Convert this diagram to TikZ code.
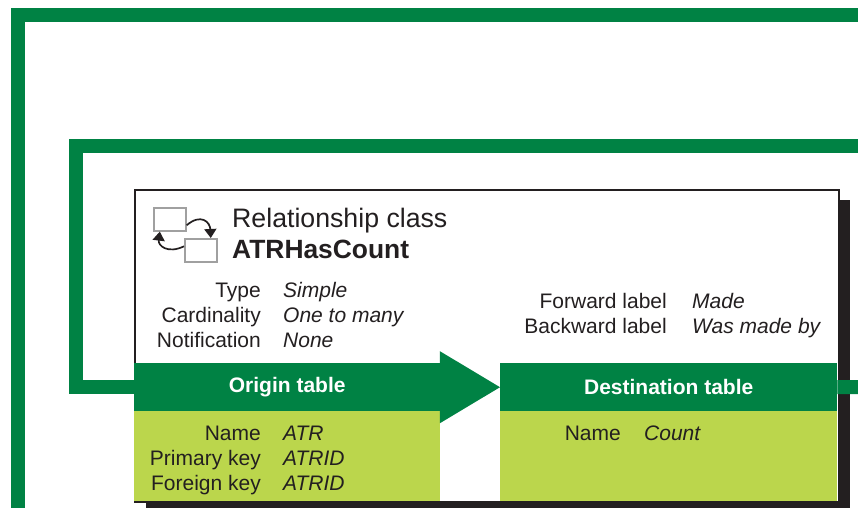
\documentclass[tikz,border=0pt]{standalone}
\usepackage{fontspec}
\setmainfont{Liberation Sans}
\usetikzlibrary{arrows.meta,calc}
\definecolor{dkgreen}{RGB}{0,130,68}
\definecolor{ltgreen}{RGB}{187,214,76}
\definecolor{ink}{RGB}{35,31,32}
\definecolor{iconedge}{RGB}{160,160,160}
\tikzset{
  gline/.style={draw=dkgreen, line width=14pt, line join=miter},
  lbl/.style={anchor=base east, inner sep=0pt, text=ink, font=\fontsize{21}{24}\selectfont},
  val/.style={anchor=base west, inner sep=0pt, text=ink, font=\fontsize{21}{24}\selectfont\itshape},
  headbox/.style={fill=dkgreen, text=white, inner sep=0pt, anchor=north west,
    font=\fontsize{21}{24}\selectfont\bfseries, minimum height=48pt},
  bodybox/.style={fill=ltgreen, inner sep=0pt, anchor=north west, minimum height=90pt},
  iconsq/.style={draw=iconedge, fill=white, line width=1.6pt, inner sep=0pt, anchor=north west,
    minimum width=32pt, minimum height=23pt},
  iconarr/.style={draw=ink, line width=1.7pt, -{Triangle[length=9pt,width=12pt]}}
}
\begin{document}
\begin{tikzpicture}[x=1pt,y=-1pt]
\useasboundingbox (0,0) rectangle (858,507);
% outer green connector
\coordinate (outA) at (17.5,515);
\coordinate (outB) at (866,15);
\draw[gline] (outA) |- (outB);
% main box with shadow
\fill[ink] (146,200) rectangle (850,515);
\node[draw=ink, line width=1.5pt, fill=white, inner sep=0pt, anchor=north west,
  minimum width=704pt, minimum height=312pt] (box) at (134,189) {};
% second green connector
\coordinate (inA) at (866,145.5);
\coordinate (inB) at (75.5,145.5);
% tables
\node[headbox, minimum width=306pt] (orighead) at (134,363) {Origin table};
\node[bodybox, minimum width=306pt] (origbody) at (134,411) {};
\node[headbox, minimum width=337pt] (desthead) at (500,363) {Destination table};
\node[bodybox, minimum width=337pt] (destbody) at (500,411) {};
\draw[gline] (inA) -- (inB) |- (orighead.west);
\coordinate (outR) at (866,387);
\draw[gline] (desthead.east) -- (outR);
% arrow between tables
\fill[dkgreen] ($(orighead.east)+(-0.5,-36)$) -- (desthead.west) -- ($(orighead.east)+(-0.5,36)$) -- cycle;
% icon
\node[iconsq] (sqA) at (153,207) {};
\node[iconsq] (sqB) at (184,238) {};
\draw[iconarr] ([yshift=-6pt]sqA.east) .. controls (201,213) and (210,222) .. ([xshift=10pt]sqB.north);
\draw[iconarr] ([yshift=4pt]sqB.west) .. controls (168,254) and (158,246) .. ([xshift=-10pt]sqA.south);
% title
\node[anchor=base west, inner sep=0pt, text=ink, font=\fontsize{26.7}{30}\selectfont] (title) at (232,227) {Relationship class};
\node[anchor=base west, inner sep=0pt, text=ink, font=\fontsize{26.4}{30}\selectfont\bfseries] (name) at (232,258) {ATRHasCount};
% properties
\node[lbl] (typeL) at (261,297) {Type};
\node[val] (typeV) at (283,297) {Simple};
\node[lbl] (cardL) at (261,322) {Cardinality};
\node[val] (cardV) at (283,322) {One to many};
\node[lbl] (notL) at (261,347) {Notification};
\node[val] (notV) at (283,347) {None};
\node[lbl] (fwdL) at (667,308) {Forward label};
\node[val] (fwdV) at (692,308) {Made};
\node[lbl] (bwdL) at (667,333) {Backward label};
\node[val] (bwdV) at (692,333) {Was made by};
% origin rows
\node[lbl] (onL) at (261,440) {Name};
\node[val] (onV) at (283,440) {ATR};
\node[lbl] (opL) at (261,465) {Primary key};
\node[val] (opV) at (283,465) {ATRID};
\node[lbl] (ofL) at (261,490) {Foreign key};
\node[val] (ofV) at (283,490) {ATRID};
% destination rows
\node[lbl] (dnL) at (621,440) {Name};
\node[val] (dnV) at (644,440) {Count};
\end{tikzpicture}
\end{document}
